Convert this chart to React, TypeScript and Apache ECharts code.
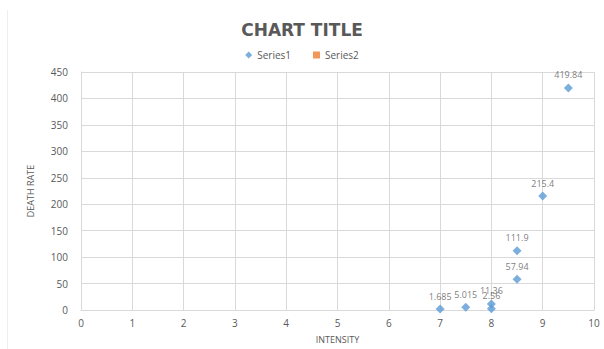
import React, { useEffect, useRef } from "react";
import * as echarts from "echarts";

const series1X: number[] = [7, 7.5, 8, 8, 8.5, 8.5, 9, 9.5];
const series1Y: number[] = [1.685, 5.015, 2.56, 11.36, 57.94, 111.9, 215.4, 419.84];
const series2X: number[] = [];
const series2Y: number[] = [];
const chartTitle = "CHART TITLE";
const xAxisName = "INTENSITY";
const yAxisName = "DEATH RATE";

export default function App() {
  const ref = useRef<HTMLDivElement>(null);
  useEffect(() => {
    if (!ref.current) return;
    const chart = echarts.init(ref.current, null, { renderer: "svg" });
    const font = "'Open Sans', 'Liberation Sans', sans-serif";
    chart.setOption({
      animation: false,
      backgroundColor: "#ffffff",
      textStyle: { fontFamily: font },
      title: {
        text: chartTitle,
        left: "center",
        top: 16,
        textStyle: { fontSize: 17, fontWeight: "bold", color: "#595959", fontFamily: "'DejaVu Sans', sans-serif" },
      },
      legend: {
        top: 45,
        left: "center",
        itemWidth: 7,
        itemHeight: 7,
        itemGap: 22,
        textStyle: { fontSize: 10, color: "#595959" },
        data: [
          { name: "Series1", icon: "diamond" },
          { name: "Series2", icon: "rect" },
        ],
      },
      grid: { left: 81, right: 10, top: 72, bottom: 37 },
      xAxis: {
        type: "value",
        min: 0,
        max: 10,
        interval: 1,
        name: xAxisName,
        nameLocation: "middle",
        nameGap: 25,
        nameTextStyle: { fontSize: 9, color: "#595959" },
        axisLine: { show: true, lineStyle: { color: "#d9d9d9" } },
        axisTick: { show: false },
        axisLabel: { fontSize: 10, color: "#595959", margin: 8 },
        splitLine: { show: true, lineStyle: { color: "#d9d9d9" } },
      },
      yAxis: {
        type: "value",
        min: 0,
        max: 450,
        interval: 50,
        name: yAxisName,
        nameLocation: "middle",
        nameGap: 46,
        nameTextStyle: { fontSize: 9, color: "#595959" },
        axisLine: { show: true, lineStyle: { color: "#d9d9d9" } },
        axisTick: { show: false },
        axisLabel: { fontSize: 10, color: "#595959", margin: 13 },
        splitLine: { show: true, lineStyle: { color: "#d9d9d9" } },
      },
      graphic: [
        {
          type: "line",
          shape: { x1: 7.5, y1: 10, x2: 7.5, y2: 349 },
          style: { stroke: "#eeeeee", lineWidth: 1 },
        },
      ],
      series: [
        {
          name: "Series1",
          type: "scatter",
          symbol: "diamond",
          symbolSize: 9,
          itemStyle: { color: "#5B9BD5" },
          data: series1X.map((x, i) => [x, series1Y[i]]),
          label: {
            show: true,
            position: "top",
            distance: 4,
            fontSize: 9,
            color: "#595959",
            formatter: (p: any) => String(p.value[1]),
          },
        },
        {
          name: "Series2",
          type: "scatter",
          symbol: "rect",
          itemStyle: { color: "#ED7D31" },
          data: series2X.map((x, i) => [x, series2Y[i]]),
        },
      ],
    });
    return () => chart.dispose();
  }, []);
  return (
    <div
      ref={ref}
      style={{ position: "absolute", left: 0, top: 0, width: 604, height: 349 }}
    />
  );
}
